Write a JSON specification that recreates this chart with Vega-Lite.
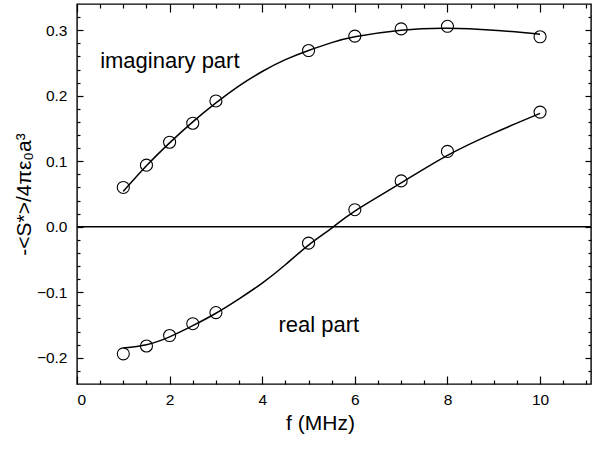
{
  "$schema": "https://vega.github.io/schema/vega-lite/v6.json",
  "width": 514,
  "height": 380,
  "autosize": {"type": "none"},
  "padding": {"left": 77, "top": 4, "right": 14, "bottom": 68},
  "background": "white",
  "config": {
    "view": {"stroke": "black", "strokeWidth": 1.4},
    "axis": {
      "grid": false,
      "domain": false,
      "tickColor": "black",
      "tickWidth": 1.2,
      "labelColor": "black",
      "labelFont": "Liberation Sans",
      "labelFontSize": 15.5,
      "titleFont": "Liberation Sans",
      "titleFontSize": 21,
      "titleFontWeight": "normal",
      "titleColor": "black"
    }
  },
  "datasets": {
    "pts": [
      {"f": 1, "v": 0.060, "part": "imaginary"},
      {"f": 1.5, "v": 0.094, "part": "imaginary"},
      {"f": 2, "v": 0.129, "part": "imaginary"},
      {"f": 2.5, "v": 0.158, "part": "imaginary"},
      {"f": 3, "v": 0.192, "part": "imaginary"},
      {"f": 5, "v": 0.269, "part": "imaginary"},
      {"f": 6, "v": 0.291, "part": "imaginary"},
      {"f": 7, "v": 0.302, "part": "imaginary"},
      {"f": 8, "v": 0.306, "part": "imaginary"},
      {"f": 10, "v": 0.290, "part": "imaginary"},
      {"f": 1, "v": -0.194, "part": "real"},
      {"f": 1.5, "v": -0.182, "part": "real"},
      {"f": 2, "v": -0.166, "part": "real"},
      {"f": 2.5, "v": -0.148, "part": "real"},
      {"f": 3, "v": -0.131, "part": "real"},
      {"f": 5, "v": -0.025, "part": "real"},
      {"f": 6, "v": 0.026, "part": "real"},
      {"f": 7, "v": 0.070, "part": "real"},
      {"f": 8, "v": 0.115, "part": "real"},
      {"f": 10, "v": 0.175, "part": "real"}
    ],
    "fit": [
      {"f": 1, "v": 0.054, "part": "imaginary"},
      {"f": 1.5, "v": 0.093, "part": "imaginary"},
      {"f": 2, "v": 0.128, "part": "imaginary"},
      {"f": 2.5, "v": 0.160, "part": "imaginary"},
      {"f": 3, "v": 0.189, "part": "imaginary"},
      {"f": 3.5, "v": 0.215, "part": "imaginary"},
      {"f": 4, "v": 0.237, "part": "imaginary"},
      {"f": 4.5, "v": 0.255, "part": "imaginary"},
      {"f": 5, "v": 0.269, "part": "imaginary"},
      {"f": 5.5, "v": 0.281, "part": "imaginary"},
      {"f": 6, "v": 0.290, "part": "imaginary"},
      {"f": 7, "v": 0.300, "part": "imaginary"},
      {"f": 8, "v": 0.303, "part": "imaginary"},
      {"f": 9, "v": 0.300, "part": "imaginary"},
      {"f": 10, "v": 0.294, "part": "imaginary"},
      {"f": 1, "v": -0.185, "part": "real"},
      {"f": 1.5, "v": -0.180, "part": "real"},
      {"f": 2, "v": -0.168, "part": "real"},
      {"f": 2.5, "v": -0.151, "part": "real"},
      {"f": 3, "v": -0.132, "part": "real"},
      {"f": 3.5, "v": -0.110, "part": "real"},
      {"f": 4, "v": -0.086, "part": "real"},
      {"f": 4.5, "v": -0.058, "part": "real"},
      {"f": 5, "v": -0.028, "part": "real"},
      {"f": 5.5, "v": -0.002, "part": "real"},
      {"f": 6, "v": 0.024, "part": "real"},
      {"f": 7, "v": 0.067, "part": "real"},
      {"f": 8, "v": 0.109, "part": "real"},
      {"f": 9, "v": 0.143, "part": "real"},
      {"f": 10, "v": 0.173, "part": "real"}
    ],
    "labels": [
      {"f": 0.5, "v": 0.242, "label": "imaginary part"},
      {"f": 4.35, "v": -0.161, "label": "real part"}
    ],
    "zero": [
      {"f0": 0, "f1": 11.1, "v": 0}
    ]
  },
  "resolve": {"axis": {"x": "independent", "y": "independent"}},
  "layer": [
    {
      "data": {"name": "pts"},
      "mark": {"type": "point", "shape": "circle", "size": 145, "stroke": "black", "strokeWidth": 1.1, "filled": false, "opacity": 1},
      "encoding": {
        "x": {"field": "f", "type": "quantitative",
              "scale": {"domain": [0, 11.1], "nice": false, "zero": false},
              "axis": {"orient": "bottom", "values": [0, 2, 4, 6, 8, 10], "tickSize": -8, "labelPadding": 16, "title": "f (MHz)", "titlePadding": 5, "titleX": 243, "titleAnchor": "middle"}},
        "y": {"field": "v", "type": "quantitative",
              "scale": {"domain": [-0.24, 0.34], "nice": false, "zero": false},
              "axis": {"orient": "left", "values": [-0.2, -0.1, 0, 0.1, 0.2, 0.3], "format": ".1f", "tickSize": -6, "labelPadding": 16, "title": "-<S*>/4πε₀a³", "titlePadding": 2}},
        "detail": {"field": "part"}
      }
    },
    {
      "data": {"name": "fit"},
      "mark": {"type": "line", "color": "black", "strokeWidth": 1.5, "interpolate": "natural"},
      "encoding": {
        "x": {"field": "f", "type": "quantitative",
              "scale": {"domain": [0, 11.1], "nice": false, "zero": false},
              "axis": {"orient": "bottom", "values": [0.5, 1, 1.5, 2.5, 3, 3.5, 4.5, 5, 5.5, 6.5, 7, 7.5, 8.5, 9, 9.5, 10.5, 11], "tickSize": -4, "labels": false, "title": null}},
        "y": {"field": "v", "type": "quantitative",
              "scale": {"domain": [-0.24, 0.34], "nice": false, "zero": false},
              "axis": {"orient": "left", "values": [-0.22, -0.18, -0.16, -0.14, -0.12, -0.08, -0.06, -0.04, -0.02, 0.02, 0.04, 0.06, 0.08, 0.12, 0.14, 0.16, 0.18, 0.22, 0.24, 0.26, 0.28, 0.32], "tickSize": -3, "labels": false, "title": null}},
        "detail": {"field": "part"}
      }
    },
    {
      "data": {"name": "labels"},
      "mark": {"type": "text", "align": "left", "baseline": "alphabetic", "font": "Liberation Sans", "fontSize": 22, "color": "black"},
      "encoding": {
        "x": {"field": "f", "type": "quantitative",
              "scale": {"domain": [0, 11.1], "nice": false, "zero": false},
              "axis": {"orient": "top", "values": [0, 2, 4, 6, 8, 10], "tickSize": -8, "labels": false, "title": null}},
        "y": {"field": "v", "type": "quantitative",
              "scale": {"domain": [-0.24, 0.34], "nice": false, "zero": false},
              "axis": {"orient": "right", "values": [-0.2, -0.1, 0, 0.1, 0.2, 0.3], "tickSize": -6, "labels": false, "title": null}},
        "text": {"field": "label"}
      }
    },
    {
      "data": {"name": "zero"},
      "mark": {"type": "rule", "color": "black", "strokeWidth": 1.3},
      "encoding": {
        "x": {"field": "f0", "type": "quantitative",
              "scale": {"domain": [0, 11.1], "nice": false, "zero": false},
              "axis": {"orient": "top", "values": [0.5, 1, 1.5, 2.5, 3, 3.5, 4.5, 5, 5.5, 6.5, 7, 7.5, 8.5, 9, 9.5, 10.5, 11], "tickSize": -4, "labels": false, "title": null}},
        "x2": {"field": "f1"},
        "y": {"field": "v", "type": "quantitative",
              "scale": {"domain": [-0.24, 0.34], "nice": false, "zero": false},
              "axis": {"orient": "right", "values": [-0.22, -0.18, -0.16, -0.14, -0.12, -0.08, -0.06, -0.04, -0.02, 0.02, 0.04, 0.06, 0.08, 0.12, 0.14, 0.16, 0.18, 0.22, 0.24, 0.26, 0.28, 0.32], "tickSize": -3, "labels": false, "title": null}}
      }
    }
  ]
}
